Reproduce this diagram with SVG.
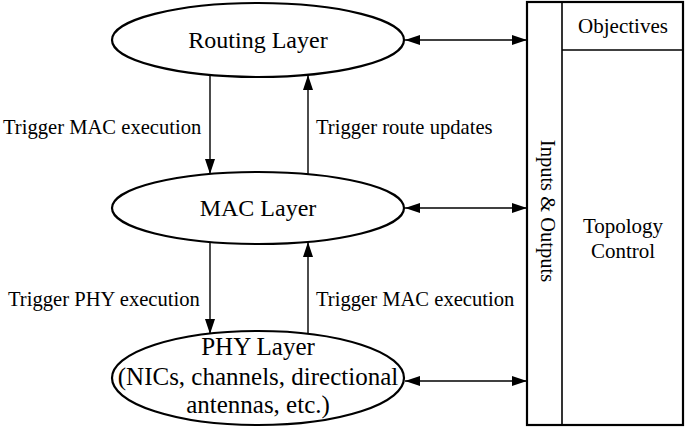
<svg xmlns="http://www.w3.org/2000/svg" width="685" height="427" viewBox="0 0 685 427">
<style>
text{font-family:"Liberation Serif","Times New Roman",serif;fill:#000}
.node{fill:#fff;stroke:#000;stroke-width:2.2}
.lbl{font-size:20.6px}
.layer{font-size:24px;text-anchor:middle}
.conn line{stroke:#000;stroke-width:1.4}
.box{fill:#fff;stroke:#000;stroke-width:2.2}
.div{stroke:#000;stroke-width:1.6}
</style>
<defs>
<marker id="ah" markerWidth="15" markerHeight="10" refX="15" refY="5" orient="auto-start-reverse" markerUnits="userSpaceOnUse">
<path d="M0,0 L15,5 L0,10 z" fill="#000"/>
</marker>
</defs>
<g id="routing">
<ellipse class="node" cx="258" cy="40" rx="146" ry="37"/>
<text class="layer" x="258" y="48">Routing Layer</text>
</g>
<g id="mac">
<ellipse class="node" cx="258" cy="208" rx="146" ry="36"/>
<text class="layer" x="258" y="216">MAC Layer</text>
</g>
<g id="phy">
<ellipse class="node" cx="258" cy="378" rx="146" ry="47"/>
<text class="layer" x="258" y="355" style="font-size:25px">PHY Layer</text>
<text class="layer" x="258" y="385" style="font-size:25px">(NICs, channels, directional</text>
<text class="layer" x="258" y="413" style="font-size:25px">antennas, etc.)</text>
</g>
<g id="panel">
<rect class="box" x="527" y="2" width="156" height="423"/>
<line class="div" x1="562" y1="2" x2="562" y2="425"/>
<line class="div" x1="562" y1="50" x2="683" y2="50"/>
<text x="623" y="33" style="font-size:21px;text-anchor:middle">Objectives</text>
<text x="623" y="233" style="font-size:21px;text-anchor:middle">Topology</text>
<text x="623" y="258" style="font-size:21px;text-anchor:middle">Control</text>
<text transform="translate(541,211) rotate(90)" style="font-size:20.5px;text-anchor:middle">Inputs &amp; Outputs</text>
</g>
<g class="conn" id="connectors">
<line x1="210" y1="75" x2="210" y2="174" marker-end="url(#ah)"/>
<line x1="308" y1="174" x2="308" y2="75" marker-end="url(#ah)"/>
<line x1="210" y1="242" x2="210" y2="334" marker-end="url(#ah)"/>
<line x1="308" y1="333" x2="308" y2="242" marker-end="url(#ah)"/>
<line x1="405" y1="40" x2="527" y2="40" marker-start="url(#ah)" marker-end="url(#ah)"/>
<line x1="405" y1="208" x2="527" y2="208" marker-start="url(#ah)" marker-end="url(#ah)"/>
<line x1="405" y1="381" x2="527" y2="381" marker-start="url(#ah)" marker-end="url(#ah)"/>
</g>
<g id="labels">
<text class="lbl" x="3" y="134">Trigger MAC execution</text>
<text class="lbl" x="316" y="134">Trigger route updates</text>
<text class="lbl" x="8" y="306">Trigger PHY execution</text>
<text class="lbl" x="316" y="306">Trigger MAC execution</text>
</g>
</svg>
